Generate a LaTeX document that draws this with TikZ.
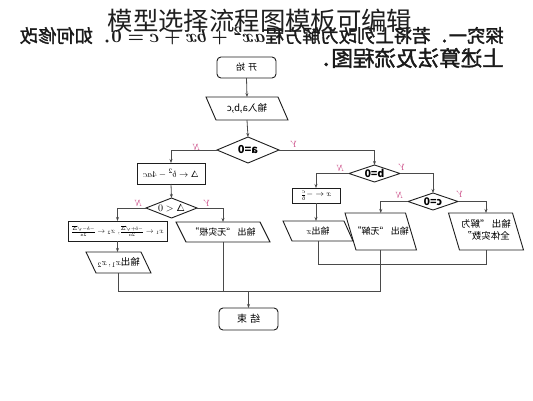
\documentclass[tikz,border=0pt]{standalone}
\usepackage{amsmath}
\usepackage{fontspec}
\usepackage{graphicx}
\usetikzlibrary{shapes.geometric,arrows.meta}
\newfontfamily\cjk{Noto Sans CJK SC}
\newfontfamily\cjkb[FakeBold=1.6]{Noto Sans CJK SC}
\definecolor{lab}{HTML}{C8407F}
\definecolor{shp}{HTML}{1E1E1E}
\definecolor{con}{HTML}{4A4A4A}
\definecolor{hdr}{HTML}{1A1A1A}
\newcommand\drawpara[2]{\draw[pshape] ([xshift=-#2]#1.north west) -- ([xshift=-#2]#1.north east) -- ([xshift=#2]#1.south east) -- ([xshift=#2]#1.south west) -- cycle;}
\begin{document}
\begin{tikzpicture}[x=1pt,y=-1pt,
  mir/.style={xscale=-1,transform shape},
  base/.style={mir,inner sep=0pt,outer sep=0pt,font=\cjk\fontsize{9}{11}\selectfont,text=black,align=center},
  term/.style={base,draw=shp,line width=0.9pt,rounded corners=4pt},
  proc/.style={base,draw=shp,line width=0.9pt},
  dec/.style={base,shape=diamond,draw=shp,line width=0.9pt},
  pnode/.style={base},
  pshape/.style={draw=shp,line width=0.9pt},
  conn/.style={draw=con,line width=0.8pt},
  arr/.style={conn,-{Stealth[length=4pt,width=3pt]}},
  lbl/.style={mir,inner sep=0pt,text=lab,font=\itshape\fontsize{9}{9}\selectfont}]
\useasboundingbox[fill=white] (0,0) rectangle (533,400);

% header text (mirrored)
\node[mir,anchor=west,inner sep=0pt,text=hdr] (h1) at (504,36) {\resizebox{484pt}{!}{\cjkb 探究一．若将上列改为解方程$\boldsymbol{ax^2+bx+c=0}$．如何修改}};
\node[mir,anchor=west,inner sep=0pt,text=hdr] (h2) at (504,58) {\resizebox{194pt}{!}{\cjkb 上述算法及流程图．}};

% title
\node[inner sep=0pt,text=black!88,font=\cjk\fontsize{25.4}{26}\selectfont] (title) at (260,21) {模型选择流程图模板可编辑};

% nodes
\node[term,minimum width=59pt,minimum height=21pt] (start) at (246.5,67.5) {开\hspace{3pt}始};
\node[pnode,minimum width=72pt,minimum height=23pt] (in) at (247,108.5) {\fontsize{9.5}{11}\selectfont 输入a,b,c};
\node[dec,aspect=2.4,minimum width=62pt,minimum height=26pt] (a0) at (248,150) {\fontsize{11}{12}\selectfont\bfseries a=0};
\node[proc,minimum width=68pt,minimum height=21pt] (delta) at (171,173.5) {\fontsize{9.5}{11}\selectfont $\Delta\leftarrow b^2-4ac$};
\node[dec,aspect=2.5,minimum width=51pt,minimum height=20pt] (d0) at (171.5,208) {\fontsize{10}{11}\selectfont $\Delta<0$};
\node[proc,minimum width=99pt,minimum height=20pt] (roots) at (117.5,231) {\resizebox{92pt}{!}{$x_1\leftarrow\frac{-b+\sqrt{\Delta}}{2a},\ x_2\leftarrow\frac{-b-\sqrt{\Delta}}{2a}$}};
\node[pnode,minimum width=55pt,minimum height=21pt] (outx12) at (118.5,262.5) {\fontsize{9.5}{11}\selectfont 输出$x_1,x_2$};
\node[pnode,minimum width=84pt,minimum height=20pt] (nr) at (223,232) {输出 “无实根”};
\node[dec,aspect=3,minimum width=51pt,minimum height=17pt] (b0) at (374.5,173.5) {\fontsize{10.5}{11}\selectfont\bfseries b=0};
\node[proc,minimum width=48pt,minimum height=15pt] (xcb) at (316,195.5) {\fontsize{8}{9}\selectfont $x\leftarrow-\frac{c}{b}$};
\node[pnode,minimum width=61pt,minimum height=20pt] (outx) at (318,231) {输出$x$};
\node[dec,aspect=2.9,minimum width=50pt,minimum height=17pt] (c0) at (433,201.5) {\fontsize{10.5}{11}\selectfont\bfseries c=0};
\node[pnode,minimum width=60.5pt,minimum height=37pt] (nosol) at (380.75,231.5) {输出 “无解”};
\node[pnode,minimum width=64pt,minimum height=37pt] (allreal) at (486,231.5) {\fontsize{9.5}{12}\selectfont\begin{tabular}{@{}c@{}}输出 “解为\\全体实数”\end{tabular}};
\node[term,minimum width=59pt,minimum height=22pt] (end) at (248.5,319) {\fontsize{10}{11}\selectfont 结\hspace{3pt}束};

% parallelogram outlines (mirrored slant)
\drawpara{in}{5pt}
\drawpara{outx12}{5pt}
\drawpara{nr}{5pt}
\drawpara{outx}{4.5pt}
\drawpara{nosol}{5.5pt}
\drawpara{allreal}{5.5pt}

% connectors (nodes are mirrored: .east is on the picture's left)
\draw[arr] (start.south) -- (in.north);
\draw[arr] (in.south) -- (a0.north);
\draw[arr] (a0.east) -| (delta.north);
\draw[arr] (a0.west) -| (b0.north);
\draw[arr] (delta.south) -- (d0.north);
\draw[arr] (d0.east) -| (roots.north);
\draw[arr] (d0.west) -| (nr.north);
\draw[arr] (roots.south) -- (roots.south |- outx12.north);
\draw[arr] (b0.east) -| (xcb.north);
\draw[arr] (b0.west) -| (c0.north);
\draw[arr] (xcb.south) -- (xcb.south |- outx.north);
\draw[arr] (c0.east) -| (nosol.north);
\draw[arr] (c0.west) -| (allreal.north);

\coordinate (rj) at (0,264);
\coordinate (bj) at (0,291);
\draw[conn] (outx.south) -- (outx.south |- rj) -- (allreal.south |- rj) -- (allreal.south);
\draw[conn] (nosol.south) -- (nosol.south |- bj);
\draw[conn] (outx12.south) -- (outx12.south |- bj) -- (nosol.south |- bj);
\draw[conn] (nr.south) -- (nr.south |- bj);
\draw[arr] (end.north |- bj) -- (end.north);

% branch labels
\node[lbl] (la0n) at (197,147) {N};
\node[lbl] (la0y) at (295,144) {Y};
\node[lbl] (ld0n) at (139,203) {N};
\node[lbl] (ld0y) at (208,203) {Y};
\node[lbl] (lb0n) at (341,168) {N};
\node[lbl] (lb0y) at (403,167) {Y};
\node[lbl] (lc0n) at (400,195) {N};
\node[lbl] (lc0y) at (461,194) {Y};
\end{tikzpicture}
\end{document}
